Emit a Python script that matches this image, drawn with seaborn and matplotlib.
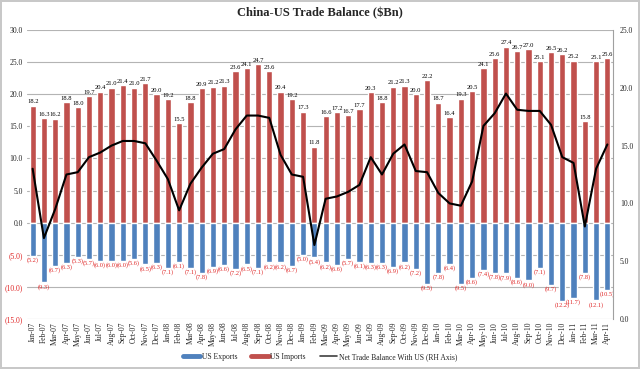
import matplotlib
matplotlib.use("Agg")
import matplotlib.pyplot as plt
import seaborn as sns
import pandas as pd
from matplotlib.lines import Line2D

# monthly China-US trade, $Bn
months = ['Jan-07', 'Feb-07', 'Mar-07', 'Apr-07', 'May-07', 'Jun-07', 'Jul-07', 'Aug-07', 'Sep-07', 'Oct-07', 'Nov-07', 'Dec-07',
          'Jan-08', 'Feb-08', 'Mar-08', 'Apr-08', 'May-08', 'Jun-08', 'Jul-08', 'Aug-08', 'Sep-08', 'Oct-08', 'Nov-08', 'Dec-08',
          'Jan-09', 'Feb-09', 'Mar-09', 'Apr-09', 'May-09', 'Jun-09', 'Jul-09', 'Aug-09', 'Sep-09', 'Oct-09', 'Nov-09', 'Dec-09',
          'Jan-10', 'Feb-10', 'Mar-10', 'Apr-10', 'May-10', 'Jun-10', 'Jul-10', 'Aug-10', 'Sep-10', 'Oct-10', 'Nov-10', 'Dec-10',
          'Jan-11', 'Feb-11', 'Mar-11', 'Apr-11']

us_imports = [18.2, 16.3, 16.2, 18.8, 18.0, 19.7, 20.4, 21.0, 21.4, 21.0, 21.7, 20.0,
              19.2, 15.5, 18.8, 20.9, 21.2, 21.3, 23.6, 24.1, 24.7, 23.6, 20.4, 19.2,
              17.3, 11.8, 16.6, 17.2, 16.7, 17.7, 20.3, 18.8, 21.2, 21.3, 20.0, 22.2,
              18.7, 16.4, 19.3, 20.5, 24.1, 25.6, 27.4, 26.7, 27.0, 25.1, 26.5, 26.2,
              25.2, 15.8, 25.1, 25.6]

us_exports = [5.2, 9.3, 6.7, 6.3, 5.3, 5.7, 6.0, 6.0, 6.0, 5.6, 6.5, 6.3,
              7.1, 6.1, 7.1, 7.8, 6.9, 6.6, 7.2, 6.5, 7.1, 6.2, 6.2, 6.7,
              5.0, 5.4, 6.2, 6.6, 5.7, 6.1, 6.3, 6.3, 6.9, 6.2, 7.2, 9.5,
              7.8, 6.4, 9.5, 8.6, 7.4, 7.8, 7.9, 8.6, 9.0, 7.1, 9.7, 12.2,
              11.7, 7.8, 12.1, 10.5]

net_balance = [13.0, 7.0, 9.5, 12.5, 12.7, 14.0, 14.4, 15.0, 15.4, 15.4, 15.2, 13.7,
               12.1, 9.4, 11.7, 13.1, 14.3, 14.7, 16.4, 17.6, 17.6, 17.4, 14.2, 12.5,
               12.3, 6.4, 10.4, 10.6, 11.0, 11.6, 14.0, 12.5, 14.3, 15.1, 12.8, 12.7,
               10.9, 10.0, 9.8, 11.9, 16.7, 17.8, 19.5, 18.1, 18.0, 18.0, 16.8, 14.0,
               13.5, 8.0, 13.0, 15.1]

df = pd.DataFrame({
    'month': months,
    'imports': us_imports,
    'exports': [-v for v in us_exports],   # exports drawn below zero
    'net': net_balance,
})

RED = '#C0504D'
BLUE = '#4F81BD'
LABEL_RED = '#E02828'
GRID = '#B4B4B4'

sns.set_theme(style="white")
plt.rcParams['font.family'] = ['Liberation Serif', 'DejaVu Serif']

fig = plt.figure(figsize=(6.4, 3.69), dpi=100, linewidth=1.5, edgecolor='#C8C8C8')
ax = fig.add_axes([27 / 640, 1 - 319 / 369, (613 - 27) / 640, (319 - 30) / 369])

sns.barplot(data=df, x='month', y='imports', color=RED, saturation=1, width=0.55,
            errorbar=None, ax=ax, zorder=2)
sns.barplot(data=df, x='month', y='exports', color=BLUE, saturation=1, width=0.55,
            errorbar=None, ax=ax, zorder=2)

ax.bar_label(ax.containers[0], labels=[f"{v:.1f}" for v in us_imports],
             padding=1, fontsize=4.7, color='black')
ax.bar_label(ax.containers[1], labels=[f"({v:.1f})" for v in us_exports],
             padding=1, fontsize=4.6, color=LABEL_RED)

ax.set_ylim(-15, 30)
yticks = list(range(-15, 31, 5))
ax.set_yticks(yticks)
ax.set_yticklabels([f"({abs(t):.1f})" if t < 0 else f"{t:.1f}" for t in yticks])
for lab, t in zip(ax.get_yticklabels(), yticks):
    if t < 0:
        lab.set_color(LABEL_RED)
ax.grid(axis='y', color=GRID, lw=0.8)
ax.set_axisbelow(True)
ax.set_xlabel('')
ax.set_ylabel('')
ax.tick_params(axis='x', rotation=90, labelsize=5.5, length=0, pad=2)
ax.tick_params(axis='y', labelsize=5.5, length=0, pad=3)
for s in ax.spines.values():
    s.set_visible(False)

# net balance on the right-hand axis
ax2 = ax.twinx()
sns.lineplot(data=df, x='month', y='net', color='black', lw=1.5, sort=False, ax=ax2)
ax2.set_ylim(0, 25)
rticks = list(range(0, 26, 5))
ax2.set_yticks(rticks)
ax2.set_yticklabels([f"{t:.1f}" for t in rticks])
ax2.set_ylabel('')
ax2.tick_params(axis='y', labelsize=5.5, length=0, pad=5)
for name, s in ax2.spines.items():
    s.set_visible(name == 'right')
ax2.spines['right'].set_color('#A0A0A0')
ax2.spines['right'].set_linewidth(0.8)
ax.set_xlim(-0.5, len(months) - 0.5)

fig.text(0.5, 1 - 13 / 369, r'China-US Trade Balance (\$Bn)', ha='center', va='center',
         fontsize=9, fontweight='bold')

handles = [Line2D([], [], color=BLUE, lw=3.5),
           Line2D([], [], color=RED, lw=3.5),
           Line2D([], [], color='#404040', lw=1.2)]
fig.legend(handles, ['US Exports', 'US Imports', 'Net Trade Balance With US (RH Axis)'],
           loc='center', bbox_to_anchor=(0.5, 1 - 357 / 369), ncol=3, frameon=False,
           fontsize=5.5, handlelength=2.3, handletextpad=0.2, columnspacing=1.8)

fig.savefig('out.png', dpi=100)
